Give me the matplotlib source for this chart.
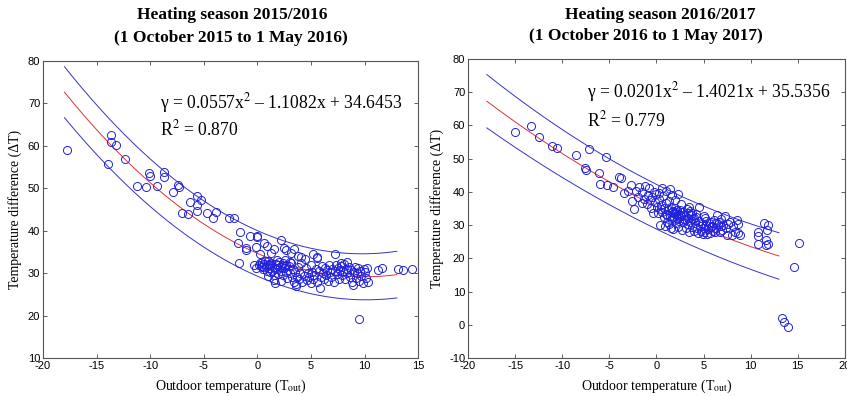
import matplotlib
matplotlib.use("Agg")
import matplotlib.pyplot as plt
import numpy as np

plt.rcParams['font.family'] = ['Liberation Sans', 'DejaVu Sans']
plt.rcParams['mathtext.fontset'] = 'stix'
plt.rcParams['axes.unicode_minus'] = False

# ---- season 2015/2016 ----
t_out_1 = [-17.8, -13.65, -13.65, -13.2, -13.9, -12.35, -11.25, -10.4, -10.15, -10.0,
           -9.4, -8.7, -8.75, -7.9, -7.4, -7.3, -6.3, -5.6, -5.6, -5.3,
           -7.0, -6.5, -5.6, -4.75, -3.9, -4.1, -2.65, -2.2, -1.6, -1.8,
           -1.1, -1.1, -1.7,
           -0.7, 0.0, 0.0, -0.15, 0.2, 0.6, 0.9, 1.25, 1.5, 2.2, 2.5, 2.65, 3.1, 3.4,
           3.8, 4.05, 4.4, 5.2, 5.6, 5.6, 7.2, 7.8, 8.4,
           -0.3, -0.1, 0.1, 0.3, 0.4, 0.5, 0.6, 0.8, 0.9, 0.9, 1.0, 1.0, 1.1, 1.2,
           1.3, 1.4, 1.5, 1.5, 1.6, 1.6, 1.7, 1.8, 1.9, 2.0, 2.1, 2.2, 2.2, 2.3,
           2.4, 2.5, 2.6, 2.7, 2.8, 2.9, 3.0, 3.1, 3.2, 3.3, 3.4, 3.5, 3.6, 3.6,
           3.7, 3.8, 3.9, 4.0, 4.1, 4.2, 4.3, 4.5, 4.6, 4.7, 4.8, 5.0, 5.0, 5.1,
           5.2, 5.3, 5.5, 5.6, 5.7, 5.8, 5.9, 6.0, 6.1, 6.2, 6.3, 6.4, 6.5, 6.6,
           6.7, 6.8, 6.9, 7.0, 7.1, 7.2, 7.3, 7.4, 7.5, 7.6, 7.7, 7.8, 7.9, 8.0,
           8.1, 8.2, 8.3, 8.4, 8.5, 8.6, 8.7, 8.8, 8.9, 9.0, 9.1, 9.2, 9.3, 9.4,
           9.5, 9.5, 9.6, 9.7, 9.8, 9.9, 10.0, 10.1, 10.2, 10.3,
           11.25, 11.6, 13.1, 13.6, 14.4,
           0.4, 0.7, 1.1, 1.4, 1.9, 2.4, 2.7, 3.0, 0.2, 1.2, 1.8, 2.6]
dt_1 = [59.1, 62.5, 60.9, 60.1, 55.8, 57.0, 50.5, 50.4, 53.6, 53.0,
        50.5, 53.9, 52.6, 49.2, 50.7, 50.3, 46.7, 48.1, 46.0, 47.2,
        44.2, 44.0, 44.6, 44.2, 44.5, 43.1, 43.1, 43.1, 39.6, 37.2,
        36.0, 35.5, 32.3,
        38.8, 38.8, 38.4, 36.25, 34.5, 37.0, 36.4, 34.7, 35.8, 37.7, 35.9, 35.5, 34.7, 35.6,
        34.0, 33.9, 33.3, 34.5, 33.9, 33.5, 34.5, 32.3, 32.7,
        32.0, 31.3, 31.8, 31.7, 32.6, 31.0, 32.2, 31.5, 32.0, 30.5, 29.4, 32.8, 31.2, 30.2,
        32.4, 31.6, 29.6, 28.4, 27.7, 30.9, 32.2, 31.0, 29.9, 32.6, 31.4, 28.2, 30.5, 32.0,
        29.5, 31.2, 33.0, 30.2, 28.9, 31.7, 30.1, 32.4, 29.0, 31.0, 28.0, 30.3, 27.5, 27.0,
        29.2, 31.5, 28.5, 30.0, 32.5, 27.8, 29.4, 31.2, 28.3, 30.1, 29.0, 27.7, 31.8, 30.2,
        28.6, 29.6, 31.0, 28.0, 30.4, 26.5, 29.1, 31.6, 30.0, 28.5, 31.2, 29.6, 30.8, 28.2,
        31.8, 30.3, 29.2, 31.0, 27.9, 30.6, 32.0, 29.8, 31.2, 28.7, 30.8, 31.6, 29.6, 30.4,
        32.2, 28.6, 31.0, 30.0, 31.5, 29.2, 30.7, 27.8, 27.3, 30.2, 31.4, 28.9, 30.0, 31.2,
        19.2, 28.2, 30.6, 29.4, 27.7, 31.0, 30.2, 28.8, 31.3, 27.8,
        30.8, 31.3, 30.9, 30.8, 30.9,
        31.4, 32.9, 32.1, 30.6, 31.8, 32.3, 31.9, 32.7, 32.4, 31.9, 33.1, 31.6]

fit_1 = [0.0557, -1.1082, 34.6453]
upper_1 = [0.0572, -1.1172, 40.009]
lower_1 = [0.0542, -1.0992, 29.282]

# ---- season 2016/2017 ----
t_out_2 = [-15.0, -13.35, -12.45, -11.05, -10.5, -8.5, -7.2, -7.55, -7.45, -6.05,
           -5.95, -5.4, -5.25, -4.65, -3.95, -3.75, -3.4, -3.05, -2.7, -2.6,
           -2.35, -2.2, -1.8, -1.55, -1.2, -1.0, -0.8, -0.6, -0.5, -0.3,
           -0.2, 0.0, 0.1, 0.2, 0.3, 0.4, 0.5, 0.6, 0.7, 0.8,
           0.8, 0.9, 1.0, 1.0, 1.1, 1.2, 1.3, 1.3, 1.4, 1.5,
           1.5, 1.6, 1.7, 1.8, 1.8, 1.9, 2.0, 2.0, 2.1, 2.1,
           2.2, 2.3, 2.3, 2.4, 2.5, 2.6, 2.7, 2.8, 2.9, 3.0,
           3.1, 3.2, 3.3, 3.4, 3.45, 3.5, 3.6, 3.7, 3.8, 3.8,
           3.9, 4.0, 4.1, 4.2, 4.3, 4.4, 4.5, 4.5, 4.6, 4.7,
           4.8, 4.9, 5.0, 5.0, 5.1, 5.2, 5.3, 5.4, 5.5, 5.6,
           5.7, 5.8, 5.9, 6.0, 6.1, 6.2, 6.3, 6.45, 6.5, 6.6,
           6.7, 6.8, 6.9, 7.0, 7.1, 7.3, 7.4, 7.5, 7.6, 7.8,
           8.0, 8.1, 8.3, 8.55, 8.65, 8.65, 8.9,
           10.8, 10.8, 10.8, 11.4, 11.7, 11.8, 11.65, 11.65, 11.8,
           13.3, 13.5, 13.95, 14.65, 15.1,
           -2.0, -1.5, -0.9, -0.4, -0.7, -1.3, 0.3, 0.6, 1.0, 1.4,
           1.7, 2.0, 2.6, 2.3, 1.1, 1.6, 2.2, 2.5, 2.9, 3.3,
           0.5, 1.9, 2.4, 2.8, 4.2, 3.6, 4.0, 5.3, 5.8, 6.3]
dt_2 = [58.0, 59.9, 56.6, 53.9, 53.3, 51.0, 53.0, 47.2, 46.5, 45.8,
        42.4, 50.5, 42.2, 41.4, 44.4, 44.2, 39.7, 40.2, 42.2, 37.4,
        34.9, 40.4, 41.4, 39.9, 41.7, 36.5, 41.1, 35.0, 38.4, 40.0,
        37.0, 39.4, 35.5, 33.5, 37.8, 30.0, 36.2, 34.0, 38.8, 32.3,
        35.1, 29.8, 36.8, 33.2, 31.0, 34.6, 37.2, 30.2, 32.8, 35.6,
        29.2, 33.8, 31.5, 34.2, 28.8, 32.4, 35.0, 33.3, 30.6, 34.0,
        32.0, 33.4, 29.5, 31.2, 34.5, 32.6, 28.4, 30.8, 33.0, 31.6,
        29.0, 34.8, 32.1, 30.2, 35.6, 27.8, 31.0, 33.0, 33.6, 29.4,
        31.8, 28.3, 30.5, 32.4, 29.0, 27.5, 35.6, 31.2, 29.8, 28.2,
        30.4, 27.3, 32.8, 29.2, 28.0, 32.1, 30.0, 27.2, 28.8, 30.6,
        27.6, 29.4, 29.6, 28.2, 31.4, 27.8, 29.0, 33.1, 30.2, 30.9,
        28.0, 29.6, 31.8, 28.6, 30.0, 32.6, 29.2, 27.1, 30.4, 31.0,
        27.1, 29.8, 28.0, 31.6, 30.4, 27.6, 27.1,
        27.8, 26.8, 24.3, 30.6, 28.6, 30.1, 25.6, 24.1, 24.3,
        2.0, 0.7, -0.75, 17.5, 24.6,
        38.5, 36.8, 39.0, 33.5, 37.5, 38.0, 39.8, 41.2, 40.3, 41.0,
        39.0, 37.6, 36.3, 39.5, 33.0, 32.0, 34.6, 33.0, 31.8, 33.6,
        34.8, 33.5, 32.5, 33.9, 33.4, 34.2, 32.0, 31.2, 30.8, 30.6]

fit_2 = [0.0201, -1.4021, 35.5356]
upper_2 = [0.0231, -1.4201, 42.2626]
lower_2 = [0.0171, -1.3841, 28.8086]

fit_range = (-18, 13)

panels = [
    dict(x=t_out_1, y=dt_1, fit=fit_1, up=upper_1, lo=lower_1,
         title=('Heating season 2015/2016', '(1 October 2015 to 1 May 2016)'),
         tx=(232 / 847, 231 / 847), ty=(15, 38),
         eq='\u03b3 = 0.0557x$^2$ \u2013 1.1082x + 34.6453', r2='R$^2$ = 0.870',
         xlim=(-20, 15), ylim=(10, 80), eqpos=(0.312, 0.86, 0.768)),
    dict(x=t_out_2, y=dt_2, fit=fit_2, up=upper_2, lo=lower_2,
         title=('Heating season 2016/2017', '(1 October 2016 to 1 May 2017)'),
         tx=(660 / 847, 646 / 847), ty=(15, 36),
         eq='\u03b3 = 0.0201x$^2$ \u2013 1.4021x + 35.5356', r2='R$^2$ = 0.779',
         xlim=(-20, 20), ylim=(-10, 80), eqpos=(0.316, 0.89, 0.796)),
]

fig = plt.figure(figsize=(8.47, 3.96), dpi=100)
ax_rects = [[0.0508, 0.096, 0.443, 0.75], [0.5525, 0.096, 0.445, 0.755]]

for rect, p in zip(ax_rects, panels):
    ax = fig.add_axes(rect)
    xs = np.linspace(fit_range[0], fit_range[1], 200)
    ax.plot(xs, np.polyval(p['up'], xs), color='#3333cc', lw=0.7)
    ax.plot(xs, np.polyval(p['lo'], xs), color='#3333cc', lw=0.7)
    ax.plot(xs, np.polyval(p['fit'], xs), color='#dd3333', lw=0.7)
    ax.plot(p['x'], p['y'], 'o', ms=5.8, mfc='none', mec='#2222dd', mew=0.7)
    ax.set_xlim(*p['xlim'])
    ax.set_ylim(*p['ylim'])
    ax.tick_params(direction='in', top=True, right=True, labelsize=8, length=3, width=0.6,
                   color='#444444', pad=2)
    for s in ax.spines.values():
        s.set_color('#555555')
        s.set_linewidth(0.8)
    ax.set_xlabel('Outdoor temperature (T$_{\\rm out}$)', family='Liberation Serif',
                  fontsize=10, labelpad=5)
    ax.set_ylabel('Temperature difference (\u0394T)', family='Liberation Serif',
                  fontsize=10, labelpad=4)
    ex, ey, ry = p['eqpos']
    ax.text(ex, ey, p['eq'], transform=ax.transAxes, family='Liberation Serif',
            fontsize=12.7, va='center', ha='left')
    ax.text(ex, ry, p['r2'], transform=ax.transAxes, family='Liberation Serif',
            fontsize=12.7, va='center', ha='left')
    for line, tx, ty in zip(p['title'], p['tx'], p['ty']):
        fig.text(tx, 1 - ty / 396, line, ha='center', va='center',
                 family='Liberation Serif', fontweight='bold', fontsize=12.5)

fig.savefig('out.png', dpi=100, facecolor='white')
